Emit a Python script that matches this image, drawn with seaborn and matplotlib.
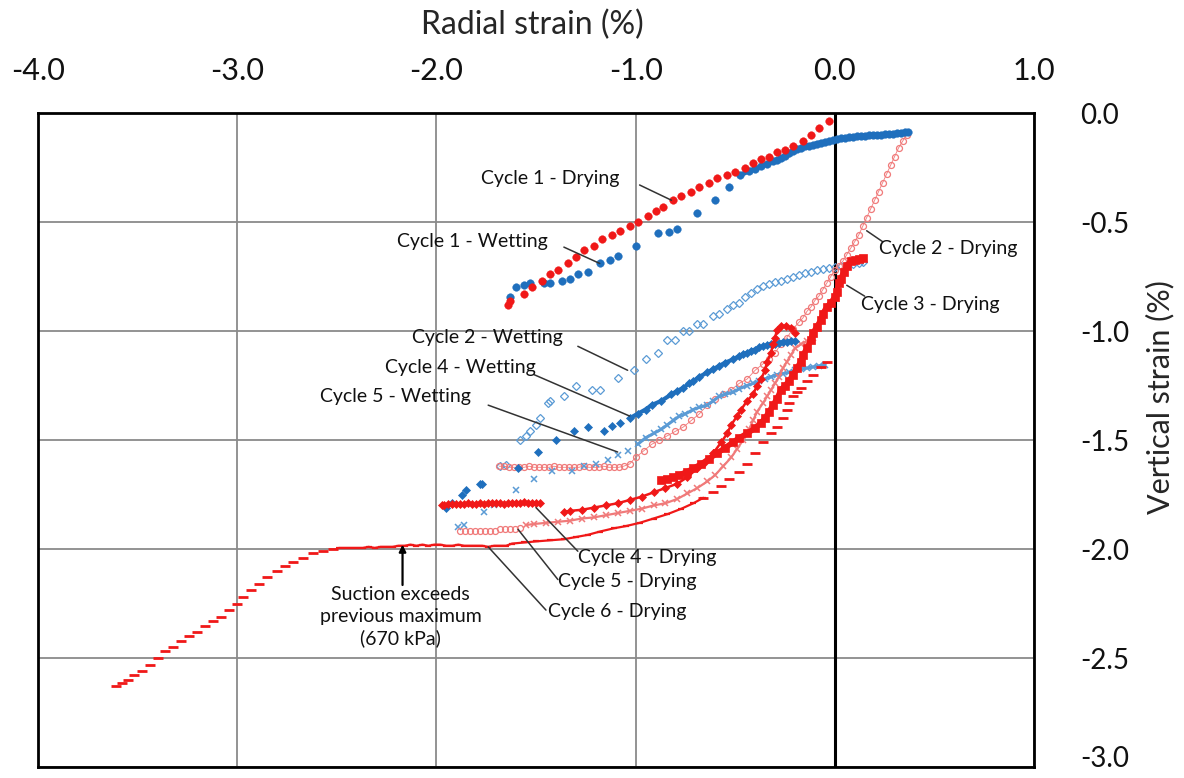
import matplotlib
matplotlib.use("Agg")
import matplotlib.pyplot as plt
import seaborn as sns
import pandas as pd

# ---- data (radial strain %, vertical strain %) ----
c1_dry_x = [-1.64, -1.63, -1.56, -1.52, -1.47, -1.43, -1.39, -1.34, -1.30, -1.26, -1.21, -1.17, -1.12,
            -1.08, -1.03, -0.99, -0.94, -0.90, -0.86, -0.81, -0.77, -0.72, -0.68, -0.63, -0.59, -0.54,
            -0.50, -0.45, -0.41, -0.37, -0.33, -0.29, -0.25, -0.21, -0.16, -0.12, -0.08, -0.03]
c1_dry_y = [-0.88, -0.86, -0.83, -0.80, -0.77, -0.74, -0.72, -0.69, -0.66, -0.63, -0.61, -0.58, -0.56,
            -0.54, -0.52, -0.50, -0.47, -0.45, -0.43, -0.40, -0.38, -0.36, -0.34, -0.32, -0.30, -0.285,
            -0.27, -0.25, -0.23, -0.21, -0.20, -0.18, -0.17, -0.15, -0.13, -0.10, -0.07, -0.035]

c1_wet_x = [0.37, 0.35, 0.33, 0.31, 0.29, 0.27, 0.25, 0.23, 0.21, 0.19, 0.17, 0.15, 0.13, 0.11, 0.09,
            0.07, 0.05, 0.03, 0.01, -0.01, -0.03, -0.05, -0.07, -0.09, -0.11, -0.13, -0.15, -0.17,
            -0.19, -0.21, -0.23, -0.25, -0.27, -0.29, -0.31, -0.34, -0.37, -0.40, -0.43, -0.475,
            -0.53, -0.60, -0.69, -0.79, -0.83, -0.89, -1.00, -1.09, -1.13, -1.18, -1.24, -1.29,
            -1.33, -1.37, -1.43, -1.46, -1.53, -1.56, -1.60, -1.63]
c1_wet_y = [-0.088, -0.089, -0.090, -0.092, -0.094, -0.096, -0.098, -0.100, -0.101, -0.102, -0.103,
            -0.104, -0.105, -0.107, -0.109, -0.111, -0.113, -0.116, -0.120, -0.125, -0.130, -0.133,
            -0.136, -0.140, -0.146, -0.150, -0.153, -0.160, -0.167, -0.175, -0.185, -0.196, -0.206,
            -0.215, -0.222, -0.232, -0.245, -0.255, -0.265, -0.285,
            -0.34, -0.40, -0.46, -0.53, -0.545, -0.55, -0.61, -0.655, -0.675, -0.69, -0.73, -0.74,
            -0.76, -0.77, -0.78, -0.78, -0.78, -0.79, -0.80, -0.845]

c2_dry_x = [0.36, 0.34, 0.32, 0.30, 0.28, 0.26, 0.24, 0.22, 0.20, 0.18, 0.16, 0.14, 0.12, 0.10, 0.08,
            0.06, 0.04, 0.02, 0.00, -0.02, -0.04, -0.06, -0.08, -0.10, -0.12, -0.14, -0.16, -0.18,
            -0.21, -0.24, -0.27, -0.30, -0.33, -0.36, -0.40, -0.44, -0.48, -0.52, -0.56, -0.60,
            -0.64, -0.68, -0.72, -0.76, -0.80, -0.84, -0.88, -0.92, -0.96, -1.00, -1.03,
            -1.06, -1.085, -1.11, -1.135, -1.16, -1.185, -1.21, -1.235, -1.26, -1.285, -1.31, -1.335,
            -1.36, -1.385, -1.41, -1.435, -1.46, -1.485, -1.51, -1.535, -1.56, -1.585, -1.61, -1.635,
            -1.66, -1.685]
c2_dry_y = [-0.10, -0.13, -0.16, -0.20, -0.24, -0.28, -0.32, -0.36, -0.40, -0.44, -0.48, -0.52, -0.56,
            -0.59, -0.62, -0.65, -0.68, -0.70, -0.72, -0.75, -0.78, -0.81, -0.84, -0.86, -0.89, -0.91,
            -0.94, -0.96, -0.99, -1.03, -1.06, -1.10, -1.13, -1.15, -1.18, -1.22, -1.24, -1.27, -1.29,
            -1.31, -1.34, -1.38, -1.41, -1.44, -1.46, -1.48, -1.50, -1.52, -1.55, -1.58, -1.61,
            -1.62, -1.625, -1.625, -1.625, -1.62, -1.625, -1.625, -1.625, -1.62, -1.625, -1.625, -1.625,
            -1.625, -1.625, -1.62, -1.625, -1.625, -1.625, -1.625, -1.62, -1.625, -1.625, -1.625, -1.625,
            -1.62, -1.62]

c2_wet_x = [-1.68, -1.65, -1.58, -1.55, -1.53, -1.50, -1.48, -1.44, -1.43, -1.36, -1.30, -1.22, -1.18,
            -1.09, -1.01, -0.95, -0.89, -0.84, -0.80, -0.76, -0.73, -0.69, -0.66, -0.61, -0.58, -0.54,
            -0.51, -0.48, -0.45, -0.42, -0.39, -0.36, -0.33, -0.30, -0.27, -0.24, -0.21, -0.18, -0.15,
            -0.12, -0.09, -0.06, -0.03, 0.00, 0.03, 0.06, 0.09, 0.12, 0.14]
c2_wet_y = [-1.62, -1.615, -1.50, -1.48, -1.46, -1.43, -1.40, -1.33, -1.32, -1.30, -1.25, -1.27, -1.27,
            -1.215, -1.18, -1.13, -1.10, -1.04, -1.04, -1.00, -1.00, -0.97, -0.97, -0.93, -0.92, -0.90,
            -0.88, -0.87, -0.845, -0.825, -0.805, -0.795, -0.785, -0.775, -0.77, -0.76, -0.75, -0.742,
            -0.735, -0.728, -0.722, -0.716, -0.712, -0.708, -0.703, -0.698, -0.693, -0.688, -0.685]

c3_dry_x = [0.14, 0.12, 0.10, 0.08, 0.06, 0.045, 0.03, 0.02, 0.01, 0.00, -0.02, -0.04, -0.06, -0.07,
            -0.09, -0.11, -0.12, -0.14, -0.16, -0.17, -0.19, -0.21, -0.23, -0.25, -0.27, -0.29, -0.31,
            -0.33, -0.35, -0.37, -0.40, -0.44, -0.48, -0.51, -0.55, -0.59, -0.63, -0.67, -0.71, -0.74,
            -0.78, -0.81, -0.84, -0.87]
c3_dry_y = [-0.665, -0.67, -0.675, -0.68, -0.70, -0.73, -0.76, -0.78, -0.82, -0.845, -0.87, -0.89,
            -0.92, -0.95, -0.98, -1.01, -1.04, -1.08, -1.11, -1.14, -1.17, -1.20, -1.23, -1.25, -1.27,
            -1.31, -1.34, -1.37, -1.40, -1.42, -1.445, -1.47, -1.49, -1.51, -1.535, -1.56, -1.585,
            -1.61, -1.63, -1.645, -1.66, -1.67, -1.68, -1.685]

# cycle 4 drying: curved branch, then the flat run at about -1.79
c4_dry_x = [-0.20, -0.22, -0.245, -0.27, -0.29, -0.30, -0.31, -0.32, -0.34, -0.35, -0.37, -0.39, -0.41,
            -0.44, -0.47, -0.49, -0.52, -0.54, -0.57, -0.61, -0.65, -0.69, -0.74, -0.79, -0.85, -0.91,
            -0.97, -1.03, -1.09, -1.15, -1.21, -1.27, -1.33, -1.36]
c4_dry_y = [-1.01, -0.985, -0.975, -0.978, -0.995, -1.03, -1.06, -1.10, -1.14, -1.18, -1.22, -1.25,
            -1.29, -1.32, -1.36, -1.39, -1.43, -1.47, -1.51, -1.56, -1.60, -1.63, -1.67, -1.70, -1.72,
            -1.74, -1.76, -1.775, -1.79, -1.80, -1.81, -1.82, -1.825, -1.83]
c4_dry_flat_x = [-1.48, -1.50, -1.52, -1.54, -1.56, -1.58, -1.60, -1.62, -1.64, -1.66, -1.68, -1.70,
                 -1.72, -1.74, -1.76, -1.78, -1.80, -1.82, -1.84, -1.86, -1.88, -1.90, -1.92, -1.94,
                 -1.96, -1.97]
c4_dry_flat_y = [-1.79, -1.79, -1.79, -1.79, -1.785, -1.79, -1.79, -1.79, -1.79, -1.795, -1.79, -1.79,
                 -1.79, -1.79, -1.795, -1.79, -1.795, -1.795, -1.79, -1.795, -1.795, -1.795, -1.795,
                 -1.795, -1.80, -1.80]

c4_wet_x = [-1.95, -1.92, -1.87, -1.85, -1.78, -1.77, -1.59, -1.49, -1.40, -1.31, -1.24, -1.16, -1.12,
            -1.08, -1.03, -0.99, -0.95, -0.92, -0.87, -0.82, -0.79, -0.76, -0.73, -0.71, -0.68, -0.64,
            -0.61, -0.58, -0.55, -0.51, -0.48, -0.46, -0.44, -0.42, -0.40, -0.38, -0.36, -0.34, -0.32,
            -0.30, -0.28, -0.26, -0.24, -0.22, -0.20]
c4_wet_y = [-1.81, -1.79, -1.75, -1.73, -1.70, -1.70, -1.63, -1.555, -1.50, -1.46, -1.44, -1.46, -1.435,
            -1.42, -1.40, -1.38, -1.36, -1.34, -1.32, -1.29, -1.275, -1.26, -1.24, -1.23, -1.21, -1.19,
            -1.175, -1.16, -1.145, -1.13, -1.115, -1.105, -1.10, -1.09, -1.085, -1.075, -1.07, -1.065,
            -1.06, -1.06, -1.055, -1.05, -1.05, -1.045, -1.045]

c5_dry_x = [-0.11, -0.14, -0.17, -0.20, -0.22, -0.24, -0.26, -0.28, -0.30, -0.32, -0.34, -0.36, -0.39,
            -0.41, -0.43, -0.46, -0.49, -0.52, -0.56, -0.60, -0.64, -0.69, -0.74, -0.79, -0.85, -0.91,
            -0.97, -1.03, -1.09, -1.15, -1.21, -1.27, -1.33, -1.39, -1.45, -1.51, -1.55]
c5_dry_y = [-1.03, -1.045, -1.06, -1.08, -1.11, -1.14, -1.17, -1.21, -1.24, -1.27, -1.30, -1.33, -1.37,
            -1.41, -1.45, -1.50, -1.54, -1.58, -1.62, -1.66, -1.69, -1.72, -1.745, -1.77, -1.79, -1.80,
            -1.815, -1.825, -1.835, -1.845, -1.855, -1.86, -1.87, -1.875, -1.88, -1.885, -1.89]
c5_dry_end_x = [-1.58, -1.605, -1.63, -1.655, -1.68, -1.705, -1.73, -1.755, -1.78, -1.805, -1.83,
                -1.855, -1.88]
c5_dry_end_y = [-1.905, -1.91, -1.91, -1.91, -1.91, -1.915, -1.915, -1.915, -1.915, -1.915, -1.915,
                -1.915, -1.915]

c5_wet_x = [-1.89, -1.86, -1.76, -1.71, -1.60, -1.51, -1.42, -1.32, -1.26, -1.20, -1.14, -1.09, -1.04,
            -0.99, -0.95, -0.91, -0.87, -0.84, -0.81, -0.78, -0.75, -0.71, -0.68, -0.64, -0.61, -0.58,
            -0.55, -0.51, -0.48, -0.44, -0.41, -0.38, -0.35, -0.32, -0.29, -0.26, -0.23, -0.20, -0.17,
            -0.14, -0.11, -0.08, -0.05]
c5_wet_y = [-1.90, -1.89, -1.83, -1.80, -1.73, -1.68, -1.64, -1.64, -1.62, -1.61, -1.59, -1.57, -1.55,
            -1.52, -1.49, -1.47, -1.45, -1.43, -1.41, -1.39, -1.38, -1.36, -1.35, -1.34, -1.32, -1.30,
            -1.29, -1.28, -1.265, -1.25, -1.24, -1.23, -1.22, -1.21, -1.20, -1.195, -1.19, -1.18,
            -1.175, -1.17, -1.165, -1.16, -1.155]

# cycle 6 drying: steep upper branch, the near-continuous middle run, the lower tail
c6_top_x = [-0.04, -0.07, -0.11, -0.14, -0.17, -0.19, -0.21, -0.23, -0.24, -0.26, -0.29, -0.32, -0.36,
            -0.40, -0.44, -0.48, -0.53, -0.57, -0.61, -0.66]
c6_top_y = [-1.14, -1.165, -1.20, -1.23, -1.26, -1.28, -1.30, -1.33, -1.36, -1.40, -1.44, -1.47, -1.51,
            -1.56, -1.61, -1.645, -1.68, -1.71, -1.74, -1.765]
c6_mid_x = [-0.66, -0.71, -0.77, -0.84, -0.91, -0.98, -1.05, -1.11, -1.18, -1.24, -1.30, -1.36, -1.43,
            -1.50, -1.56, -1.62, -1.65, -1.68, -1.71, -1.74, -1.77, -1.80, -1.83, -1.86, -1.89, -1.92,
            -1.95, -1.98, -2.01, -2.04, -2.07, -2.10, -2.13, -2.16, -2.19, -2.22, -2.25, -2.28, -2.31,
            -2.34, -2.37, -2.40, -2.43, -2.46, -2.49]
c6_mid_y = [-1.765, -1.79, -1.815, -1.84, -1.86, -1.88, -1.895, -1.905, -1.92, -1.935, -1.945, -1.955,
            -1.96, -1.965, -1.97, -1.975, -1.985, -1.985, -1.985, -1.99, -1.985, -1.985, -1.985, -1.985,
            -1.98, -1.985, -1.985, -1.98, -1.98, -1.985, -1.98, -1.985, -1.98, -1.985, -1.985, -1.99,
            -1.99, -1.99, -1.995, -1.99, -1.995, -1.995, -1.995, -1.995, -1.995]
c6_tail_x = [-2.52, -2.57, -2.62, -2.67, -2.72, -2.76, -2.80, -2.85, -2.89, -2.93, -2.97, -3.00, -3.04,
             -3.08, -3.12, -3.16, -3.20, -3.24, -3.28, -3.32, -3.36, -3.40, -3.44, -3.48, -3.52, -3.55,
             -3.58, -3.61]
c6_tail_y = [-2.00, -2.01, -2.02, -2.04, -2.06, -2.08, -2.10, -2.13, -2.16, -2.19, -2.22, -2.25, -2.28,
             -2.31, -2.33, -2.355, -2.38, -2.40, -2.42, -2.45, -2.47, -2.50, -2.53, -2.56, -2.58, -2.60,
             -2.615, -2.63]

# label text, label centre, leader line start (on curve) and end (at label)
labels = ["Cycle 1 - Drying", "Cycle 1 - Wetting", "Cycle 2 - Drying", "Cycle 3 - Drying",
          "Cycle 2 - Wetting", "Cycle 4 - Wetting", "Cycle 5 - Wetting", "Cycle 4 - Drying",
          "Cycle 5 - Drying", "Cycle 6 - Drying"]
label_xy = [(-1.43, -0.30), (-1.82, -0.59), (0.57, -0.62), (0.48, -0.876), (-1.745, -1.03),
            (-1.88, -1.165), (-2.205, -1.30), (-0.94, -2.04), (-1.04, -2.15), (-1.09, -2.285)]
leader_from = [(-0.82, -0.40), (-1.18, -0.69), (0.16, -0.54), (0.06, -0.79), (-1.04, -1.18),
               (-1.03, -1.39), (-1.09, -1.555), (-1.50, -1.81), (-1.59, -1.91), (-1.74, -1.99)]
leader_to = [(-0.98, -0.33), (-1.36, -0.615), (0.24, -0.59), (0.15, -0.84), (-1.29, -1.07),
             (-1.51, -1.20), (-1.74, -1.34), (-1.29, -2.01), (-1.39, -2.14), (-1.45, -2.28)]

RED = "#f01818"
BLUE = "#1f6fbd"
LBLUE = "#5b9bd5"
PINK = "#f07a7a"

sns.set_style("white")
plt.rcParams['font.family'] = ['Lato', 'DejaVu Sans']
plt.rcParams['axes.unicode_minus'] = False

fig = plt.figure(figsize=(11.84, 7.78), dpi=100)
ax = fig.add_axes([0.0321, 0.0141, 0.8412, 0.8406])


def frame(xs, ys):
    return pd.DataFrame({"x": xs, "y": ys})


def draw(df, ls="", lw=1.0, **kw):
    sns.lineplot(data=df, x="x", y="y", sort=False, estimator=None, linestyle=ls, linewidth=lw,
                 ax=ax, **kw)


c1w = frame(c1_wet_x, c1_wet_y)
c4w = frame(c4_wet_x, c4_wet_y)
c5w = frame(c5_wet_x, c5_wet_y)

draw(frame(c2_wet_x, c2_wet_y), marker="D", ms=4, mfc="none", mec=LBLUE, mew=0.9, color=LBLUE)
draw(frame(c2_dry_x, c2_dry_y), ls="-", lw=0.6, marker="o", ms=4.3, mfc="none", mec=PINK, mew=0.9,
     color=PINK)
draw(c5w[c5w.x > -1.0], ls="-", lw=2.2, color=LBLUE)
draw(c5w, marker="x", ms=5, mec=LBLUE, mew=1.1, color=LBLUE)
draw(frame(c5_dry_x, c5_dry_y), ls="-", lw=1.6, marker="x", ms=4.5, mec=PINK, mew=1.1, color=PINK)
draw(frame(c5_dry_end_x, c5_dry_end_y), marker="o", ms=4.3, mfc="none", mec=PINK, mew=0.9,
     color=PINK)
draw(frame(c6_top_x, c6_top_y), marker="_", ms=7, mec=RED, mew=2, color=RED)
draw(frame(c6_mid_x, c6_mid_y), ls="-", lw=1.6, marker="_", ms=5, mec=RED, mew=1.6, color=RED)
draw(frame(c6_tail_x, c6_tail_y), marker="_", ms=7, mec=RED, mew=2, color=RED)
draw(c4w[c4w.x > -1.05], ls="-", lw=3, color=BLUE)
draw(c4w, marker="D", ms=4, mfc=BLUE, mec=BLUE, mew=0.5, color=BLUE)
draw(frame(c4_dry_x, c4_dry_y), ls="-", lw=1.8, marker="D", ms=3.6, mfc=RED, mec=RED, mew=0.5,
     color=RED)
draw(frame(c4_dry_flat_x, c4_dry_flat_y), ls="-", lw=2, marker="D", ms=3.8, mfc=RED, mec=RED,
     mew=0.5, color=RED)
draw(frame(c3_dry_x, c3_dry_y), ls="-", lw=4, marker="s", ms=5.5, mfc=RED, mec=RED, mew=0.5,
     color=RED)
draw(c1w[c1w.x > -0.5], ls="-", lw=3.5, color=BLUE)
draw(c1w, marker="o", ms=5.5, mfc=BLUE, mec=BLUE, mew=0.3, color=BLUE)
draw(frame(c1_dry_x, c1_dry_y), marker="o", ms=5.5, mfc=RED, mec=RED, mew=0.3, color=RED)

ax.set_xlim(-4, 1)
ax.set_ylim(-3, 0)
ax.set_xticks([-4, -3, -2, -1, 0, 1])
ax.set_yticks([0, -0.5, -1, -1.5, -2, -2.5, -3])
ax.set_xticklabels(["-4.0", "-3.0", "-2.0", "-1.0", "0.0", "1.0"], fontsize=22)
ax.set_yticklabels(["0.0", "-0.5", "-1.0", "-1.5", "-2.0", "-2.5", "-3.0"], fontsize=20)
ax.xaxis.tick_top()
ax.yaxis.tick_right()
ax.tick_params(axis="x", length=0, pad=20, colors="#111111")
ax.tick_params(axis="y", length=0, pad=33, colors="#111111")
ax.get_yticklabels()[-1].set_va("baseline")
ax.grid(True, color="#8a8a8a", linewidth=1.3)
ax.set_axisbelow(True)
ax.axvline(0, color="black", linewidth=2.2, zorder=1.5)
for sp in ax.spines.values():
    sp.set_color("black")
    sp.set_linewidth(2)

ax.xaxis.set_label_position("top")
ax.set_xlabel("Radial strain (%)", fontsize=23)
ax.xaxis.label.set_va("center")
ax.xaxis.set_label_coords(0.496, 1.134)
ax.yaxis.set_label_position("right")
ax.set_ylabel("Vertical strain (%)", fontsize=22, rotation=90)
ax.yaxis.label.set_va("center")
ax.yaxis.label.set_ha("center")
ax.yaxis.set_label_coords(1.1265, 0.566)

for txt, (tx, ty), p0, p1 in zip(labels, label_xy, leader_from, leader_to):
    ax.annotate("", xy=p0, xytext=p1,
                arrowprops=dict(arrowstyle="-", color="#333333", lw=1.1, shrinkA=0, shrinkB=0))
    ax.text(tx, ty, txt, fontsize=14, ha="center", va="center", color="#111111")

ax.annotate("", xy=(-2.17, -1.98), xytext=(-2.17, -2.165),
            arrowprops=dict(arrowstyle="-|>", color="black", lw=1.6, mutation_scale=10,
                            shrinkA=0, shrinkB=0))
ax.text(-2.18, -2.31, "Suction exceeds\nprevious maximum\n(670 kPa)", fontsize=14,
        ha="center", va="center", linespacing=1.35, color="#111111")

fig.savefig("out.png", dpi=100)
